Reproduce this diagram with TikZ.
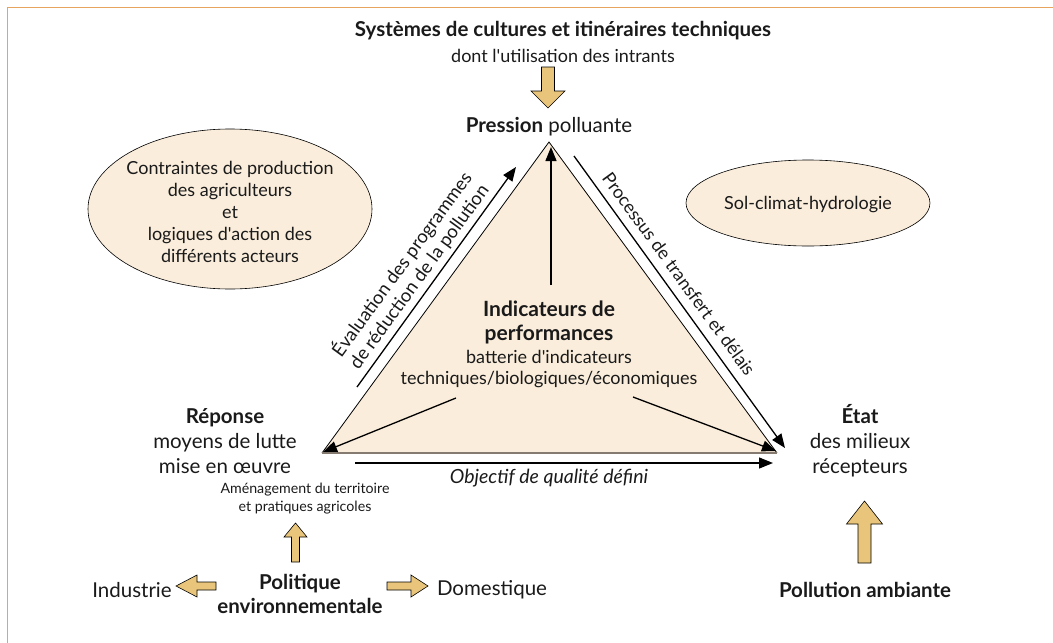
\documentclass[tikz,border=0pt]{standalone}
\usepackage{fontspec}
\setmainfont{Lato}[Ligatures=TeXOff]
\usetikzlibrary{arrows.meta,calc}
\definecolor{frameor}{HTML}{E6A45E}
\definecolor{beige}{HTML}{FAEDDB}
\definecolor{fatyel}{HTML}{E8C57A}
\definecolor{basegray}{HTML}{857B70}
\definecolor{txt}{HTML}{1A1A1A}
\tikzset{
  lbl/.style={inner sep=0pt, align=center, text=txt, font=\fontsize{20.5}{25}\selectfont},
  mid/.style={inner sep=0pt, align=center, text=txt, font=\fontsize{18}{22}\selectfont},
  small/.style={inner sep=0pt, align=center, text=txt, font=\fontsize{14.2}{18}\selectfont},
  conn/.style={draw=black, line width=1.3pt, -{Triangle[length=14pt,width=11pt]}},
  fat/.style={draw=black, line width=0.6pt, fill=fatyel},
  oval/.style={draw=black, line width=0.6pt, fill=beige}
}
\newcommand\vArrow[6]{% x, ytail, ybase, ytip, shafthalf, headhalf
  \draw[fat] (#1-#5,#2) -- (#1-#5,#3) -- (#1-#6,#3) -- (#1,#4) -- (#1+#6,#3) -- (#1+#5,#3) -- (#1+#5,#2) -- cycle;}
\newcommand\hArrow[6]{% y, xtail, xbase, xtip, shafthalf, headhalf
  \draw[fat] (#2,#1-#5) -- (#3,#1-#5) -- (#3,#1-#6) -- (#4,#1) -- (#3,#1+#6) -- (#3,#1+#5) -- (#2,#1+#5) -- cycle;}
\begin{document}
\begin{tikzpicture}[x=1pt,y=-1pt]
\useasboundingbox (0,0) rectangle (1053,643);
% frame
\draw[frameor, line width=1.4pt] (7.5,643) -- (7.5,7.5) -- (1053,7.5);
% ellipses
\draw[oval] (230,209) ellipse [x radius=142, y radius=80];
\draw[oval] (808,203) ellipse [x radius=122, y radius=43];
\node[mid] (contr) at (230,212) {Contraintes de production\\des agriculteurs\\et\\logiques d'action des\\différents acteurs};
\node[mid] (sol) at (808,205) {Sol-climat-hydrologie};
% triangle
\coordinate (A) at (549,142);
\coordinate (B) at (322,453);
\coordinate (C) at (777,453);
\fill[beige] (A) -- (B) -- (C) -- cycle;
\draw[black, line width=0.8pt] (B) -- (A) -- (C);
\draw[basegray, line width=2.2pt] (B) -- (C);
% titles
\node[lbl, font=\bfseries\fontsize{20.5}{25}\selectfont] (sys) at (563,31) {Systèmes de cultures et itinéraires techniques};
\node[lbl, font=\fontsize{18}{22}\selectfont] (dont) at (563,56) {dont l'utilisation des intrants};
\node[lbl] (press) at (549,127) {\textbf{Pression} polluante};
% centre
\node[lbl, font=\bfseries\fontsize{21}{24}\selectfont] (ind) at (549,322) {Indicateurs de\\performances};
\node[mid, font=\fontsize{18}{21}\selectfont] (batt) at (549,369) {batterie d'indicateurs\\techniques/biologiques/économiques};
% corners
\node[lbl] (rep) at (225,441) {\textbf{Réponse}\\moyens de lutte\\mise en œuvre};
\node[small] (amen) at (305,499) {Aménagement du territoire\\et pratiques agricoles};
\node[lbl] (etat) at (860,441) {\textbf{État}\\des milieux\\récepteurs};
\node[lbl, font=\itshape\fontsize{19.5}{22}\selectfont] (obj) at (549,478) {Objectif de qualité défini};
% bottom
\node[lbl, font=\bfseries\fontsize{20.5}{24}\selectfont] (pol) at (300,594) {Politique\\environnementale};
\node[lbl] (indus) at (132,590) {Industrie};
\node[lbl] (dom) at (492,590) {Domestique};
\node[lbl, font=\bfseries\fontsize{20.5}{24}\selectfont] (amb) at (865,590) {Pollution ambiante};
% rotated labels
\node[mid, font=\fontsize{18.5}{21}\selectfont, rotate=53.9] (eval) at (410,270) {Évaluation des programmes\\de réduction de la pollution};
\node[mid, font=\fontsize{18}{21}\selectfont, rotate=-53.9] (proc) at (679,274) {Processus de transfert et délais};
% connectors
\coordinate (vt) at (551,285);
\coordinate (vh) at (551,147);
\draw[conn] (vt) -- (vh);
\coordinate (lt) at (357,387);
\coordinate (lh) at (516,167);
\draw[conn] (lt) -- (lh);
\coordinate (rt) at (574,156);
\coordinate (rh) at (785,448);
\draw[conn] (rt) -- (rh);
\coordinate (it1) at (456,398);
\coordinate (ih1) at (323,452);
\draw[conn] (it1) -- (ih1);
\coordinate (it2) at (633,397);
\coordinate (ih2) at (776,451);
\draw[conn] (it2) -- (ih2);
\coordinate (bt) at (355,463);
\coordinate (bh) at (773,463);
\draw[conn] (bt) -- (bh);
% fat arrows
\vArrow{548}{67}{91}{108}{6.5}{17}
\vArrow{295.5}{562}{537}{523}{4}{11.5}
\vArrow{864.5}{563}{524}{501}{6.5}{18}
\hArrow{586}{216}{197}{176}{4}{11}
\hArrow{586}{387}{411}{428}{4}{11}
\end{tikzpicture}
\end{document}
